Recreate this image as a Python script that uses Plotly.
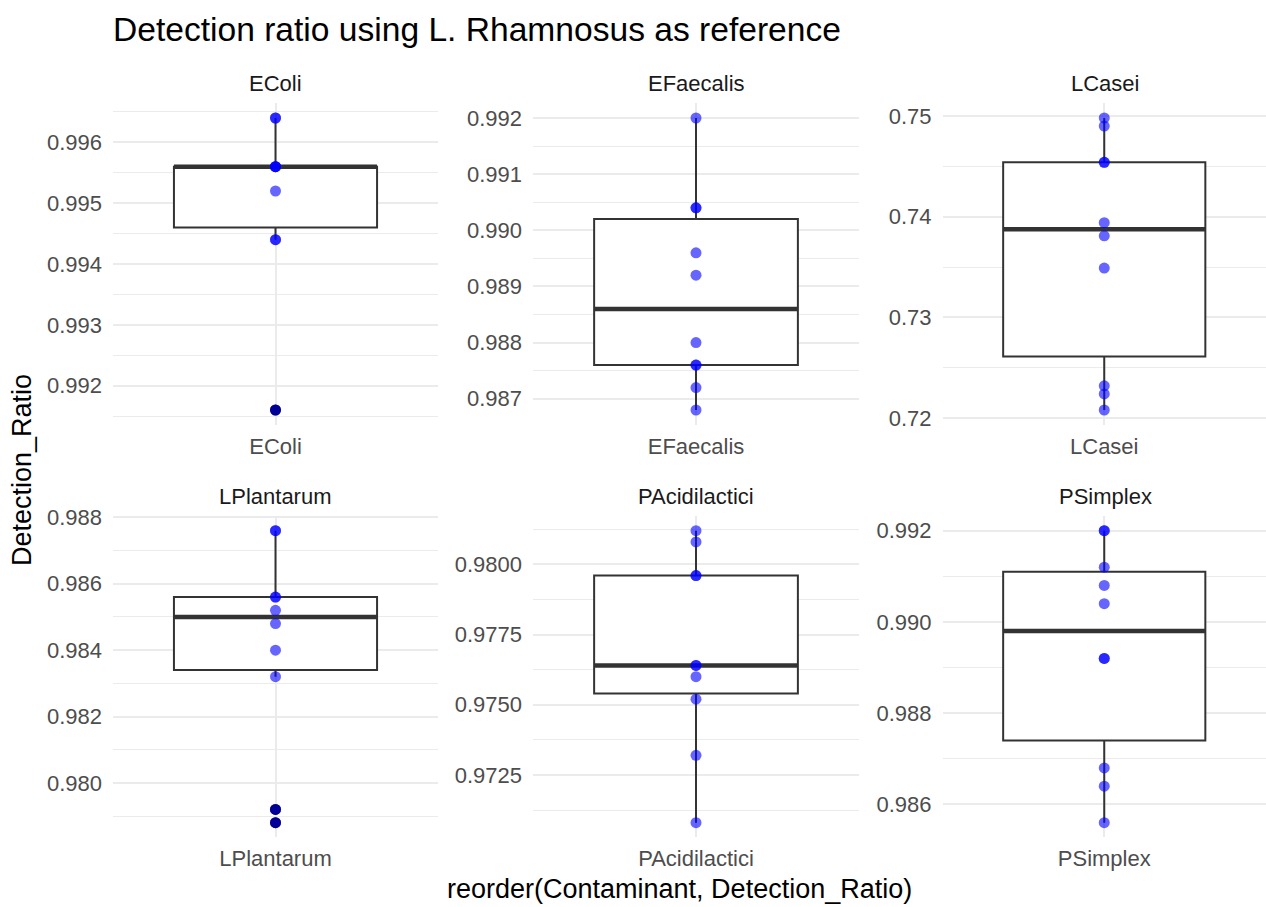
import numpy as np
import plotly.graph_objects as go

# Detection ratios per contaminant (10 replicates each)
contaminants = ["EColi", "EFaecalis", "LCasei", "LPlantarum", "PAcidilactici", "PSimplex"]
ecoli = [0.9964, 0.9964, 0.9956, 0.9956, 0.9956, 0.9956, 0.9952, 0.9944, 0.9944, 0.9916]
efaecalis = [0.9920, 0.9904, 0.9904, 0.9896, 0.9892, 0.9880, 0.9876, 0.9876, 0.9872, 0.9868]
lcasei = [0.7498, 0.7490, 0.7454, 0.7454, 0.7394, 0.7381, 0.7349, 0.7232, 0.7224, 0.7208]
lplantarum = [0.9876, 0.9876, 0.9856, 0.9856, 0.9852, 0.9848, 0.9840, 0.9832, 0.9792, 0.9788]
pacidilactici = [0.9812, 0.9808, 0.9796, 0.9796, 0.9764, 0.9764, 0.9760, 0.9752, 0.9732, 0.9708]
psimplex = [0.9920, 0.9920, 0.9912, 0.9908, 0.9904, 0.9892, 0.9892, 0.9868, 0.9864, 0.9856]
series = [ecoli, efaecalis, lcasei, lplantarum, pacidilactici, psimplex]

# y tick spacing and label format per facet
tick_steps = [0.001, 0.001, 0.01, 0.002, 0.0025, 0.002]
tick_formats = [".3f", ".3f", ".2f", ".3f", ".4f", ".3f"]

W, H = 1266, 907
col_px = [(113, 438), (533, 859), (942.5, 1267.5)]
row_px = [(103.4, 424.6), (516.1, 837.3)]
BOX_W = 0.75
GRID = "#EBEBEB"
FONT = "Liberation Sans, Arial, Helvetica, sans-serif"

fig = go.Figure()
annotations = []
layout_axes = {}

for i, (name, vals) in enumerate(zip(contaminants, series)):
    r, c = divmod(i, 3)
    n = i + 1
    xa = "x" if n == 1 else f"x{n}"
    ya = "y" if n == 1 else f"y{n}"
    xkey = "xaxis" if n == 1 else f"xaxis{n}"
    ykey = "yaxis" if n == 1 else f"yaxis{n}"

    v = np.array(vals)
    q1, med, q3 = np.percentile(v, [25, 50, 75])
    iqr = q3 - q1
    lo_lim, hi_lim = q1 - 1.5 * iqr, q3 + 1.5 * iqr
    inside = v[(v >= lo_lim) & (v <= hi_lim)]
    outl = v[(v < lo_lim) | (v > hi_lim)]

    fig.add_trace(go.Box(
        x=[0], q1=[q1], median=[med], q3=[q3],
        lowerfence=[inside.min()], upperfence=[inside.max()],
        width=BOX_W, whiskerwidth=0, fillcolor="white",
        line=dict(color="#333333", width=2),
        xaxis=xa, yaxis=ya, showlegend=False, hoverinfo="skip",
    ))
    # thicker median bar
    fig.add_trace(go.Scatter(
        x=[-BOX_W / 2, BOX_W / 2], y=[med, med], mode="lines",
        line=dict(color="#333333", width=4.5),
        xaxis=xa, yaxis=ya, showlegend=False, hoverinfo="skip",
    ))
    # boxplot outliers (black) beneath the data points
    if len(outl):
        fig.add_trace(go.Scatter(
            x=np.zeros(len(outl)), y=outl, mode="markers",
            marker=dict(color="black", size=11, line=dict(width=0)),
            xaxis=xa, yaxis=ya, showlegend=False, hoverinfo="skip",
        ))
    fig.add_trace(go.Scatter(
        x=np.zeros(len(v)), y=v, mode="markers",
        marker=dict(color="rgba(0,0,255,0.6)", size=11, line=dict(width=0)),
        xaxis=xa, yaxis=ya, showlegend=False,
    ))

    x0, x1 = col_px[c]
    y0, y1 = row_px[r]
    span = v.max() - v.min()
    yr = [v.min() - 0.05 * span, v.max() + 0.05 * span]
    step = tick_steps[i]

    layout_axes[xkey] = dict(
        domain=[x0 / W, min(x1 / W, 1.0)], anchor=ya, automargin=False,
        range=[-0.6, 0.6], tickmode="array", tickvals=[0], ticktext=[name],
        showgrid=True, gridcolor=GRID, gridwidth=2,
        zeroline=False, showline=False, ticks="",
        tickfont=dict(size=22, color="#4D4D4D", family=FONT),
        ticklabelstandoff=6, fixedrange=True,
    )
    layout_axes[ykey] = dict(
        domain=[1 - y1 / H, 1 - y0 / H], anchor=xa, automargin=False,
        range=yr, tickmode="linear", tick0=0, dtick=step,
        tickformat=tick_formats[i],
        showgrid=True, gridcolor=GRID, gridwidth=2,
        minor=dict(tickmode="linear", tick0=0, dtick=step / 2,
                   showgrid=True, gridcolor=GRID, gridwidth=1.2),
        zeroline=False, showline=False, ticks="",
        tickfont=dict(size=22, color="#4D4D4D", family=FONT),
        ticklabelstandoff=10, fixedrange=True,
    )

    # facet strip label
    annotations.append(dict(
        text=name, x=(x0 + x1) / 2 / W, y=1 - (y0 - 20) / H,
        xref="paper", yref="paper", xanchor="center", yanchor="middle",
        showarrow=False, font=dict(size=22, color="#1A1A1A", family=FONT),
    ))

annotations.append(dict(
    text="Detection_Ratio", x=22 / W, y=1 - 470 / H, xref="paper", yref="paper",
    xanchor="center", yanchor="middle", textangle=-90, showarrow=False,
    font=dict(size=27, color="black", family=FONT),
))
annotations.append(dict(
    text="reorder(Contaminant, Detection_Ratio)", x=679 / W, y=1 - 889 / H,
    xref="paper", yref="paper", xanchor="center", yanchor="middle",
    showarrow=False, font=dict(size=27, color="black", family=FONT),
))

fig.update_layout(
    width=W, height=H,
    margin=dict(l=0, r=0, t=0, b=0, autoexpand=False),
    paper_bgcolor="white", plot_bgcolor="white",
    title=dict(text="Detection ratio using L. Rhamnosus as reference",
               x=113 / W, xanchor="left", y=1 - 29 / H, yanchor="middle",
               font=dict(size=33.6, color="black", family=FONT)),
    annotations=annotations,
    showlegend=False,
    **layout_axes,
)

fig.write_html("out.html")
